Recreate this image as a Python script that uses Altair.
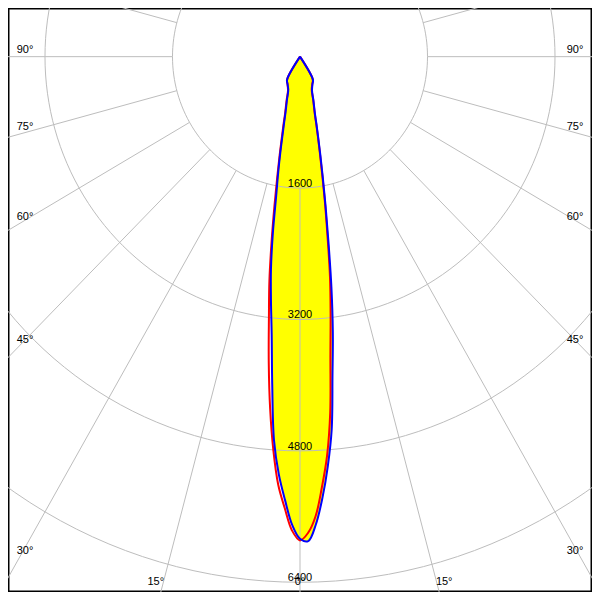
import altair as alt
import pandas as pd

# ---- data ----
# vertical angle (deg, negative = left half) and luminous intensity (cd)
red_angles = [-33, -30, -25, -20, -17.5, -15, -14, -13, -12, -11, -10, -9, -8, -7, -6, -5, -4, -3, -2, -1,
              0, 1, 2, 3, 4, 5, 6, 7, 8, 9, 10, 11, 12, 13, 14, 15, 17.5, 20, 25, 30, 33]
red_values = [0, 325, 370, 440, 560, 730, 860, 1020, 1230, 1500, 1850, 2280, 2760, 3200, 3750, 4300, 4800, 5220, 5500, 5770,
              5890, 5800, 5600, 5250, 4870, 4350, 3650, 3150, 2700, 2200, 1800, 1460, 1200, 1000, 840, 710, 550, 430, 365, 320, 0]

blue_angles = [-33, -30, -25, -20, -17.5, -15, -14, -13, -12, -11, -10, -9, -8, -7, -6, -5, -4, -3, -2, -1,
               0, 1, 2, 3, 4, 5, 6, 7, 8, 9, 10, 11, 12, 13, 14, 15, 17.5, 20, 25, 30, 33]
blue_values = [0, 325, 370, 430, 540, 700, 820, 970, 1180, 1430, 1720, 2180, 2620, 2990, 3400, 4000, 4680, 5090, 5400, 5700,
               5870, 5900, 5700, 5380, 5000, 4560, 3900, 3380, 2830, 2280, 1850, 1500, 1230, 1020, 860, 730, 560, 440, 370, 325, 0]

ring_values = [1600, 3200, 4800, 6400]
ring_labels = ["1600", "3200", "4800", "6400"]
spoke_angles = list(range(0, 360, 15))
angle_ticks = [-90, -75, -60, -45, -30, -15, 0, 15, 30, 45, 60, 75, 90]
angle_texts = [f"{abs(a)}°" for a in angle_ticks]

# ---- layout ----
W = H = 584
UX = 1600 / 131.0      # cd per reference pixel, horizontal
UY = 1600 / 135.0      # cd per reference pixel, vertical
XMAX = 300 * UX
YTOP = 50 * UY
YBOT = -550 * UY

xs = alt.Scale(domain=[-XMAX, XMAX], nice=False, zero=False)
ys = alt.Scale(domain=[YBOT, YTOP], nice=False, zero=False)
GRID = "#bdbdbd"
FONT = "Liberation Sans"


def curve_df(angles, values):
    return pd.DataFrame({"a": angles, "I": values, "i": range(len(angles))})


def polar(ch):
    return ch.transform_calculate(
        x="datum.I*sin(datum.a*PI/180)",
        y="-datum.I*cos(datum.a*PI/180)",
    )


def xy(ch, **extra):
    return ch.encode(
        x=alt.X("x:Q", scale=xs, axis=None),
        y=alt.Y("y:Q", scale=ys, axis=None),
        **extra,
    )


red = curve_df(red_angles, red_values)
blue = curve_df(blue_angles, blue_values)

fill = xy(polar(alt.Chart(blue).mark_line(fill="#ffff00", strokeWidth=0, interpolate="catmull-rom")),
          order="i:Q")

# rings
ring_rows = []
for r in ring_values:
    for k in range(0, 361, 2):
        ring_rows.append({"r": r, "a": k, "I": r})
rings = xy(polar(alt.Chart(pd.DataFrame(ring_rows)).mark_line(stroke=GRID, strokeWidth=1, clip=True)),
           detail="r:N", order="a:Q")

# spokes
spokes = alt.Chart(pd.DataFrame({"a": spoke_angles})).transform_calculate(
    x="1600*sin(datum.a*PI/180)",
    y="-1600*cos(datum.a*PI/180)",
    x2="20000*sin(datum.a*PI/180)",
    y2="-20000*cos(datum.a*PI/180)",
).mark_rule(stroke=GRID, strokeWidth=1, clip=True).encode(
    x=alt.X("x:Q", scale=xs, axis=None),
    y=alt.Y("y:Q", scale=ys, axis=None),
    x2="x2:Q",
    y2="y2:Q",
)

red_line = xy(polar(alt.Chart(red).mark_line(stroke="#ff0000", strokeWidth=2, interpolate="catmull-rom")),
              order="i:Q")
blue_line = xy(polar(alt.Chart(blue).mark_line(stroke="#0000ff", strokeWidth=2, interpolate="catmull-rom")),
               order="i:Q")

ring_text = alt.Chart(pd.DataFrame({"r": ring_values, "t": ring_labels})).transform_calculate(
    x="0", y="-datum.r"
).mark_text(font=FONT, fontSize=11, color="black", baseline="alphabetic", dy=-1).encode(
    x=alt.X("x:Q", scale=xs, axis=None),
    y=alt.Y("y:Q", scale=ys, axis=None),
    text="t:N",
)

XL = XMAX - 17.5 * UX
angle_text = alt.Chart(pd.DataFrame({"a": angle_ticks, "t": angle_texts})).transform_calculate(
    sg="datum.a<0?-1:1",
    rad="abs(datum.a)*PI/180",
).transform_calculate(
    side="abs(datum.a)>=30",
).transform_calculate(
    x=f"datum.side ? datum.sg*{XL} : (datum.a==0 ? 0 : datum.sg*({539*UY}*tan(datum.rad) + {8*UX}))",
    yc=f"datum.side ? (-{XL}*cos(datum.rad)/sin(datum.rad) + (14*pow(sin(datum.rad),2)-6)*{UY}) : {-539*UY}",
).transform_calculate(
    y=f"datum.yc - {4*UY}"
).mark_text(font=FONT, fontSize=11, color="black", baseline="alphabetic", align="center").encode(
    x=alt.X("x:Q", scale=xs, axis=None),
    y=alt.Y("y:Q", scale=ys, axis=None),
    text="t:N",
)

chart = alt.layer(fill, rings, spokes, red_line, blue_line, ring_text, angle_text).properties(
    width=W, height=H, padding=0, autosize=alt.AutoSizeParams(type="none"), background="white"
).configure_view(stroke="black", strokeWidth=3)

chart.save("out.html", embed_options={"renderer": "svg", "actions": False})
